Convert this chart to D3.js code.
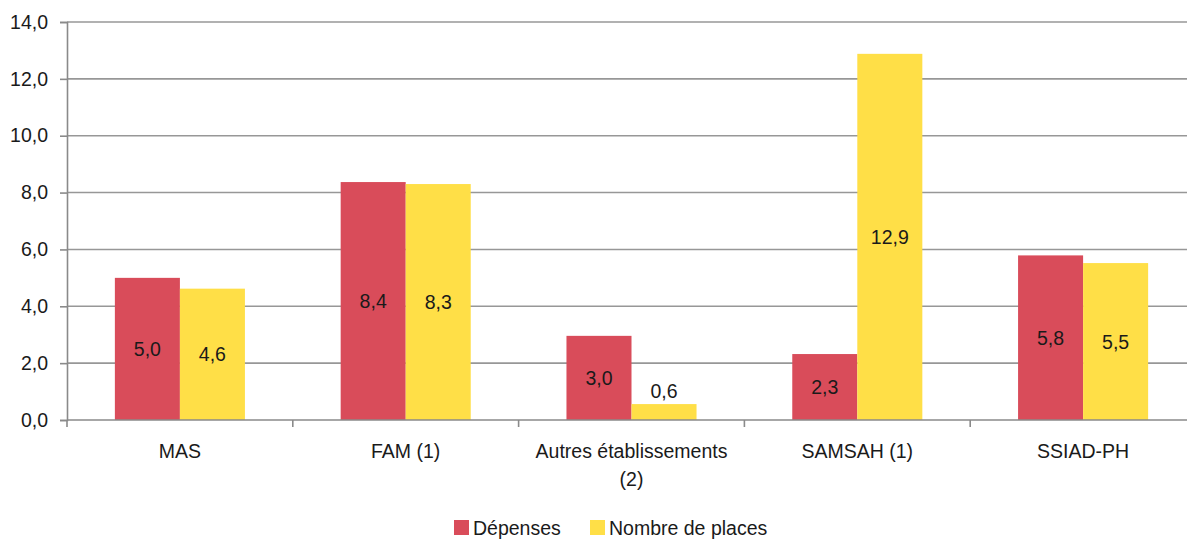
<!DOCTYPE html>
<html>
<head>
<meta charset="utf-8">
<script src="https://cdn.jsdelivr.net/npm/d3@7"></script>
<style>
  body { margin: 0; background: #fff; }
  svg { display: block; font-family: "Liberation Sans", Arial, sans-serif; }
</style>
</head>
<body>
<div id="chart"></div>
<script>
// Chart data
const categories = ['MAS', 'FAM (1)', 'Autres établissements\n(2)', 'SAMSAH (1)', 'SSIAD-PH'];
const depenses = [5.0, 8.37, 2.96, 2.32, 5.79];
const places = [4.62, 8.3, 0.56, 12.88, 5.52];
const seriesNames = ['Dépenses', 'Nombre de places'];
const yTicks = [0, 2, 4, 6, 8, 10, 12, 14];

const colors = ['#D94C5A', '#FFDF47'];
const width = 1187, height = 539;
const margin = { top: 22, left: 67, bottom: 119 };
const plotRight = 1196;
const fontSize = '19.5px';

const svg = d3.select('#chart').append('svg')
  .attr('width', width)
  .attr('height', height);

const x0 = d3.scaleBand()
  .domain(categories)
  .range([margin.left, plotRight])
  .paddingInner(0.424)
  .paddingOuter(0.212);

const x1 = d3.scaleBand()
  .domain(seriesNames)
  .range([0, x0.bandwidth()]);

const y = d3.scaleLinear()
  .domain([0, 14])
  .range([height - margin.bottom, margin.top]);

const fmt = v => v.toFixed(1).replace('.', ',');

// Gridlines
svg.append('g')
  .selectAll('line')
  .data(yTicks.filter(d => d > 0))
  .enter().append('line')
  .attr('x1', margin.left)
  .attr('x2', width)
  .attr('y1', d => y(d))
  .attr('y2', d => y(d))
  .attr('stroke', '#979797')
  .attr('stroke-width', 1.6);

// Y axis
const yAxis = svg.append('g')
  .attr('transform', `translate(${margin.left},0)`)
  .call(d3.axisLeft(y).tickValues(yTicks).tickFormat(fmt).tickSize(7).tickPadding(12));
yAxis.select('.domain').attr('stroke', '#8a8a8a').attr('stroke-width', 1.6);
yAxis.selectAll('.tick line').attr('stroke', '#8a8a8a').attr('stroke-width', 1.6);
yAxis.selectAll('.tick text')
  .attr('fill', '#1a1a1a')
  .style('font-size', fontSize)
  .style('font-family', null);

// Bars
const rows = categories.map((c, i) => ({ cat: c, vals: [depenses[i], places[i]] }));
const groups = svg.append('g')
  .selectAll('g')
  .data(rows)
  .enter().append('g')
  .attr('transform', d => `translate(${x0(d.cat)},0)`);

groups.selectAll('rect')
  .data(d => d.vals.map((v, j) => ({ v, s: seriesNames[j], j })))
  .enter().append('rect')
  .attr('x', d => x1(d.s))
  .attr('width', x1.bandwidth())
  .attr('y', d => y(d.v))
  .attr('height', d => y(0) - y(d.v))
  .attr('fill', d => colors[d.j]);

// Value labels
groups.selectAll('text')
  .data(d => d.vals.map((v, j) => ({ v, s: seriesNames[j], j })))
  .enter().append('text')
  .attr('x', d => x1(d.s) + x1.bandwidth() / 2)
  .attr('y', d => {
    const h = y(0) - y(d.v);
    return h < 30 ? y(d.v) - 6 : y(d.v) + h / 2 + 7;
  })
  .attr('text-anchor', 'middle')
  .attr('fill', '#1a1a1a')
  .style('font-size', fontSize)
  .text(d => fmt(d.v));

// X axis
const xAxis = svg.append('g')
  .attr('transform', `translate(0,${y(0)})`);
xAxis.append('line')
  .attr('x1', margin.left)
  .attr('x2', width)
  .attr('stroke', '#8a8a8a')
  .attr('stroke-width', 1.6);
xAxis.selectAll('.sep')
  .data(categories)
  .enter().append('line')
  .attr('class', 'sep')
  .attr('x1', d => x0(d) - x0.step() * x0.paddingInner() / 2)
  .attr('x2', d => x0(d) - x0.step() * x0.paddingInner() / 2)
  .attr('y1', 0)
  .attr('y2', 7)
  .attr('stroke', '#8a8a8a')
  .attr('stroke-width', 1.6);

const catLabels = xAxis.selectAll('.cat')
  .data(categories)
  .enter().append('text')
  .attr('class', 'cat')
  .attr('text-anchor', 'middle')
  .attr('fill', '#1a1a1a')
  .style('font-size', fontSize);
catLabels.each(function(d) {
  const t = d3.select(this);
  d.split('\n').forEach((line, i) => {
    t.append('tspan')
      .attr('x', x0(d) + x0.bandwidth() / 2)
      .attr('y', 38 + i * 28)
      .text(line);
  });
});

// Legend
const legend = svg.append('g')
  .attr('transform', 'translate(454,520)');
const legendX = [0, 136];
seriesNames.forEach((name, i) => {
  const item = legend.append('g').attr('transform', `translate(${legendX[i]},0)`);
  item.append('rect')
    .attr('width', 15)
    .attr('height', 15)
    .attr('fill', colors[i]);
  item.append('text')
    .attr('x', 19)
    .attr('y', 15)
    .attr('fill', '#1a1a1a')
    .style('font-size', fontSize)
    .text(name);
});
</script>
</body>
</html>
